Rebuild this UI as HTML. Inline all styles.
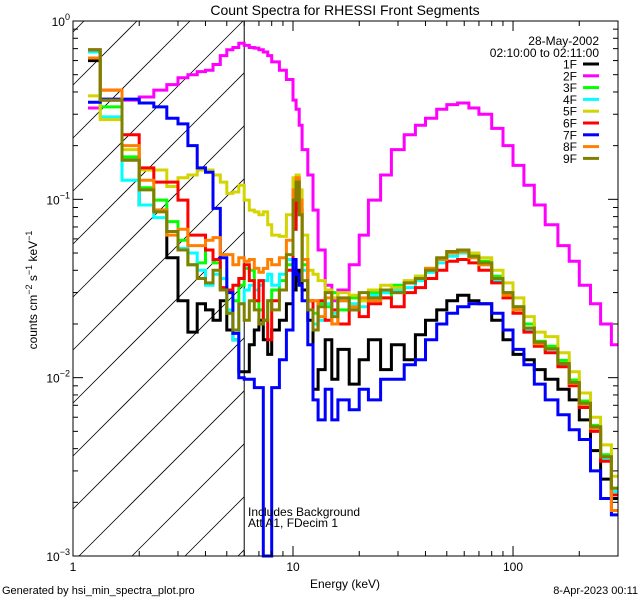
<!DOCTYPE html>
<html><head><meta charset="utf-8"><style>
html,body{margin:0;padding:0;background:#fff;width:640px;height:600px;overflow:hidden;}
svg{display:block;font-family:"Liberation Sans",sans-serif;}
</style></head><body>
<svg id="chart" width="640" height="600" viewBox="0 0 640 600" xmlns="http://www.w3.org/2000/svg">
<rect width="640" height="600" fill="#fff"/>
<text x="345" y="15" text-anchor="middle" font-size="14">Count Spectra for RHESSI Front Segments</text>
<text x="345" y="588" text-anchor="middle" font-size="12">Energy (keV)</text>
<text transform="translate(37,290) rotate(-90)" text-anchor="middle" font-size="12">counts cm<tspan dy="-5" font-size="9">−2</tspan><tspan dy="5"> s</tspan><tspan dy="-5" font-size="9">−1</tspan><tspan dy="5"> keV</tspan><tspan dy="-5" font-size="9">−1</tspan></text>
<text x="2" y="594" font-size="11">Generated by hsi_min_spectra_plot.pro</text>
<text x="638" y="594" text-anchor="end" font-size="11">8-Apr-2023 00:11</text>
<g id="plot"></g>
<text x="248" y="516" font-size="12">Includes Background</text>
<text x="248" y="527" font-size="12">Att A1, FDecim 1</text>
<text x="599" y="45" text-anchor="end" font-size="12">28-May-2002</text>
<text x="599" y="57" text-anchor="end" font-size="12">02:10:00 to 02:11:00</text>
<g id="legend"></g>
</svg>
<script>
const edges=[1.17,1.33,1.67,2,2.33,2.67,3,3.33,3.67,4,4.33,4.67,5,5.33,5.67,6,6.33,6.67,7,7.33,7.67,8,8.67,9.33,10,10.33,10.67,11,11.67,12.33,13,14,15,16,18,20,22,25,28,32,36,40,45,50,56,63,70,80,90,100,112,125,140,160,180,200,225,250,280,300];
const seriesNames=["1F","2F","3F","4F","5F","6F","7F","8F","9F"];
const seriesColors=["#000000","#ff00ff","#00ff00","#00ffff","#d4d400","#ff0000","#0000ff","#ff8000","#808000"];
const s1F=[0.60,0.36,0.166,0.093,0.087,0.047,0.027,0.018,0.026,0.024,0.021,0.027,0.0185,0.0163,0.0108,0.0108,0.0153,0.0185,0.021,0.0163,0.0135,0.0185,0.021,0.026,0.031,0.040,0.035,0.031,0.021,0.0086,0.0111,0.0163,0.0098,0.0144,0.0092,0.0126,0.0163,0.0111,0.0153,0.0126,0.0174,0.021,0.024,0.027,0.029,0.027,0.026,0.021,0.0163,0.0135,0.0126,0.0111,0.0098,0.0086,0.0075,0.0058,0.0039,0.0027,0.0021];
const s2F=[0.325,0.36,0.36,0.375,0.41,0.44,0.48,0.50,0.52,0.53,0.57,0.64,0.69,0.71,0.75,0.73,0.71,0.705,0.69,0.67,0.64,0.59,0.53,0.47,0.36,0.32,0.26,0.19,0.137,0.087,0.052,0.033,0.027,0.031,0.043,0.063,0.099,0.137,0.19,0.23,0.26,0.285,0.32,0.34,0.347,0.325,0.30,0.25,0.20,0.155,0.12,0.093,0.072,0.055,0.045,0.033,0.026,0.020,0.0153];
const s3F=[0.67,0.33,0.173,0.116,0.099,0.075,0.059,0.043,0.044,0.052,0.044,0.031,0.023,0.027,0.033,0.041,0.040,0.027,0.024,0.021,0.027,0.031,0.035,0.043,0.077,0.12,0.087,0.043,0.027,0.023,0.026,0.025,0.030,0.024,0.028,0.027,0.030,0.028,0.033,0.034,0.037,0.040,0.046,0.051,0.052,0.049,0.045,0.037,0.030,0.025,0.020,0.016,0.015,0.0125,0.0097,0.0074,0.0054,0.0037,0.0024];
const s4F=[0.67,0.29,0.128,0.093,0.079,0.066,0.053,0.050,0.040,0.033,0.038,0.036,0.024,0.0163,0.026,0.031,0.033,0.031,0.033,0.035,0.038,0.033,0.038,0.046,0.068,0.099,0.082,0.040,0.027,0.020,0.021,0.026,0.023,0.027,0.026,0.025,0.029,0.030,0.031,0.032,0.035,0.039,0.044,0.048,0.050,0.047,0.043,0.035,0.029,0.024,0.0185,0.0153,0.0144,0.0118,0.0092,0.0070,0.0051,0.0035,0.0023];
const s5F=[0.38,0.28,0.19,0.146,0.146,0.118,0.132,0.137,0.146,0.146,0.137,0.125,0.108,0.11,0.12,0.099,0.087,0.085,0.082,0.085,0.072,0.063,0.062,0.082,0.132,0.137,0.113,0.063,0.040,0.038,0.035,0.031,0.028,0.030,0.029,0.027,0.031,0.033,0.032,0.035,0.037,0.041,0.046,0.051,0.052,0.050,0.047,0.040,0.034,0.028,0.022,0.018,0.017,0.0138,0.0108,0.0082,0.006,0.0042,0.0028];
const s6F=[0.69,0.41,0.23,0.15,0.125,0.125,0.099,0.063,0.063,0.052,0.046,0.032,0.031,0.033,0.036,0.043,0.035,0.027,0.035,0.021,0.0163,0.027,0.031,0.040,0.068,0.128,0.087,0.046,0.027,0.0185,0.027,0.021,0.024,0.020,0.024,0.022,0.026,0.028,0.025,0.030,0.032,0.036,0.040,0.045,0.046,0.044,0.040,0.034,0.028,0.023,0.018,0.015,0.0138,0.0115,0.009,0.0068,0.005,0.0034,0.0022];
const s7F=[0.35,0.365,0.365,0.347,0.33,0.285,0.265,0.20,0.15,0.142,0.089,0.047,0.030,0.0177,0.0100,0.0098,0.0098,0.0088,0.0088,0.0005,0.0005,0.0088,0.0126,0.0185,0.046,0.038,0.033,0.027,0.0153,0.0075,0.0058,0.0086,0.0058,0.0075,0.0066,0.0086,0.0075,0.0098,0.0098,0.0118,0.0126,0.0163,0.020,0.023,0.025,0.026,0.026,0.023,0.0185,0.0144,0.0118,0.0092,0.0075,0.0062,0.0051,0.0045,0.0030,0.0021,0.0017];
const s8F=[0.62,0.41,0.20,0.128,0.087,0.063,0.068,0.055,0.055,0.059,0.061,0.049,0.049,0.043,0.047,0.045,0.046,0.041,0.039,0.041,0.046,0.043,0.047,0.059,0.113,0.132,0.099,0.046,0.027,0.027,0.022,0.028,0.020,0.027,0.025,0.028,0.027,0.031,0.030,0.034,0.036,0.041,0.046,0.050,0.051,0.047,0.043,0.036,0.029,0.024,0.019,0.0155,0.0145,0.012,0.0093,0.0071,0.0052,0.0036,0.0018];
const s9F=[0.69,0.36,0.166,0.113,0.085,0.066,0.052,0.043,0.036,0.034,0.040,0.031,0.023,0.0185,0.026,0.021,0.027,0.024,0.020,0.021,0.027,0.024,0.031,0.049,0.099,0.125,0.082,0.035,0.024,0.0185,0.025,0.030,0.022,0.028,0.024,0.030,0.028,0.031,0.030,0.034,0.036,0.040,0.047,0.051,0.052,0.048,0.044,0.036,0.030,0.025,0.019,0.0158,0.0145,0.012,0.0094,0.0072,0.0053,0.0036,0.0024];
const xTickLabels=["1","10","100"];
const yTickLabels=["0","−1","−2","−3"];
const vLineEnergy=6;

const NS="http://www.w3.org/2000/svg";
const L=73,R=618,T=21,B=556;
const XMIN=1,XMAX=300,YMIN=1e-3,YMAX=1;
function xs(e){return L+(Math.log10(e)-Math.log10(XMIN))/(Math.log10(XMAX)-Math.log10(XMIN))*(R-L);}
function ys(v){return T+(Math.log10(YMAX)-Math.log10(v))/(Math.log10(YMAX)-Math.log10(YMIN))*(B-T);}
function yc(v){return Math.max(T,Math.min(B,ys(v)));}
function mk(tag,attrs,parent){const e=document.createElementNS(NS,tag);for(const k in attrs)e.setAttribute(k,attrs[k]);parent.appendChild(e);return e;}
const plot=document.getElementById('plot');

const vx=xs(vLineEnergy);
const hatch=mk('g',{stroke:'#000','stroke-width':'0.8'},plot);


for(let c=105;c<900;c+=53){
  // line x+y=c clipped to [L,vx]x[T,B]
  let xa=Math.max(L,c-B), xb=Math.min(vx,c-T);
  if(xb<=xa)continue;
  mk('line',{x1:xa,y1:c-xa,x2:xb,y2:c-xb},hatch);
}
const vl=mk('line',{x1:vx,y1:T,x2:vx,y2:B,stroke:'#000','stroke-width':'1'},plot);



const allSeries=[s1F,s2F,s3F,s4F,s5F,s6F,s7F,s8F,s9F];
const sg=mk('g',{},plot);
allSeries.forEach((vals,i)=>{
  let d='';
  for(let j=0;j<vals.length;j++){
    const x0=xs(edges[j]),x1=xs(edges[j+1]),y=yc(vals[j]);
    d+=(j===0?'M':'L')+x0.toFixed(1)+','+y.toFixed(1)+'L'+x1.toFixed(1)+','+y.toFixed(1);
  }
  const p=mk('path',{d:d,fill:'none',stroke:seriesColors[i],'stroke-width':'3','stroke-linejoin':'miter'},sg);
  
  
});

const box=mk('rect',{x:L,y:T,width:R-L,height:B-T,fill:'none',stroke:'#000','stroke-width':'1'},plot);


const ticks=mk('g',{stroke:'#000','stroke-width':'1'},plot);


for(let dec=1;dec<=100;dec*=10){
  for(let m=1;m<=9;m++){
    const e=dec*m; if(e<XMIN||e>XMAX)continue;
    const x=xs(e),len=(m===1)?10:5;
    mk('line',{x1:x,y1:B,x2:x,y2:B-len},ticks);
    mk('line',{x1:x,y1:T,x2:x,y2:T+len},ticks);
  }
}
xTickLabels.forEach((lab,i)=>{
  const t=mk('text',{x:xs(Math.pow(10,i)),y:B+15,'text-anchor':'middle','font-size':'12'},plot);
  t.textContent=lab;
  
  
});
for(let p=-3;p<0;p++){
  for(let m=1;m<=9;m++){
    const v=Math.pow(10,p)*m;
    const y=ys(v),len=(m===1)?10:5;
    mk('line',{x1:L,y1:y,x2:L+len,y2:y},ticks);
    mk('line',{x1:R,y1:y,x2:R-len,y2:y},ticks);
  }
}
mk('line',{x1:L,y1:ys(1),x2:L+10,y2:ys(1)},ticks);
mk('line',{x1:R,y1:ys(1),x2:R-10,y2:ys(1)},ticks);
yTickLabels.forEach((lab,i)=>{
  const t=mk('text',{x:L-3,y:ys(Math.pow(10,-i))+5,'text-anchor':'end','font-size':'12'},plot);
  
  
  const a=mk('tspan',{},t);a.textContent='10';
  const b=mk('tspan',{dy:'-6','font-size':'9'},t);b.textContent=lab;
});

const lg=document.getElementById('legend');
seriesNames.forEach((n,i)=>{
  const y=64+i*11.8;
  const g=mk('g',{},lg);
  
  
  const t=mk('text',{x:577,y:y+4.5,'text-anchor':'end','font-size':'12'},g);
  t.textContent=n;
  mk('line',{x1:583,y1:y,x2:599,y2:y,stroke:seriesColors[i],'stroke-width':'3'},g);
});
</script>
</body></html>
